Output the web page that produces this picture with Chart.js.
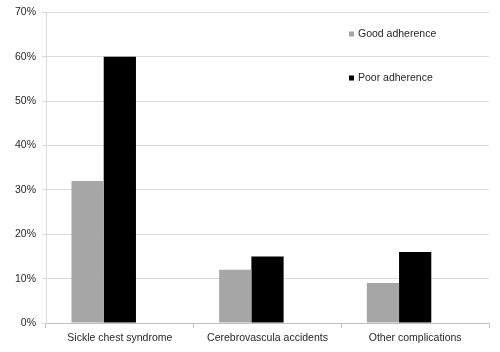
<!DOCTYPE html>
<html>
<head>
<meta charset="utf-8">
<script src="https://cdn.jsdelivr.net/npm/chart.js@4/dist/chart.umd.min.js"></script>
<style>
  html, body { margin: 0; padding: 0; background: #fff; }
  #wrap { width: 500px; height: 352px; }
</style>
</head>
<body>
<div id="wrap"><canvas id="adherenceChart" width="500" height="352"></canvas></div>
<script>
const categories = ["Sickle chest syndrome", "Cerebrovascula accidents", "Other complications"];
const goodAdherence = [32, 12, 9];
const poorAdherence = [60, 15, 16];
// the original sheet has a third, empty series that keeps a blank slot right of the black bars
const emptySeries = [null, null, null];
const seriesNames = ["Good adherence", "Poor adherence"];
const seriesColors = ["#a6a6a6", "#000000"];

// legend sits inside the plot, top right, like the original
const insideLegend = {
    id: "insideLegend",
    afterDraw(chart) {
        const ctx = chart.ctx;
        const rowsY = [34, 78];
        ctx.save();
        ctx.font = "10.5px 'Liberation Sans', Arial, sans-serif";
        ctx.textBaseline = "middle";
        seriesNames.forEach((name, i) => {
            ctx.fillStyle = seriesColors[i];
            ctx.fillRect(349, rowsY[i] - 2.5, 5, 5);
            ctx.fillStyle = "#262626";
            ctx.fillText(name, 358, rowsY[i]);
        });
        ctx.restore();
    }
};

const ctx = document.getElementById("adherenceChart").getContext("2d");

new Chart(ctx, {
    type: "bar",
    data: {
        labels: categories,
        datasets: [
            { label: seriesNames[0], data: goodAdherence, backgroundColor: seriesColors[0] },
            { label: seriesNames[1], data: poorAdherence, backgroundColor: seriesColors[1] },
            { label: "", data: emptySeries, backgroundColor: "rgba(0,0,0,0)" }
        ]
    },
    options: {
        responsive: false,
        animation: false,
        layout: { padding: { top: 12, right: 11, left: 0, bottom: 0 } },
        datasets: {
            bar: { categoryPercentage: 0.655, barPercentage: 1.0 }
        },
        plugins: {
            legend: { display: false },
            tooltip: { enabled: false }
        },
        scales: {
            x: {
                grid: {
                    display: true,
                    drawOnChartArea: false,
                    tickLength: 5,
                    color: "#bfbfbf"
                },
                border: { color: "#bfbfbf" },
                ticks: {
                    color: "#262626",
                    font: { family: "'Liberation Sans', Arial, sans-serif", size: 10.5 },
                    padding: 4,
                    maxRotation: 0
                },
                afterFit: s => { s.height = 29; }
            },
            y: {
                min: 0,
                max: 70,
                ticks: {
                    stepSize: 10,
                    color: "#262626",
                    font: { family: "'Liberation Sans', Arial, sans-serif", size: 10.5 },
                    padding: 6,
                    callback: v => v + "%"
                },
                grid: { color: "#d9d9d9", tickLength: 4 },
                border: { color: "#d9d9d9" },
                afterFit: s => { s.width = 46; }
            }
        }
    },
    plugins: [insideLegend]
});
</script>
</body>
</html>
